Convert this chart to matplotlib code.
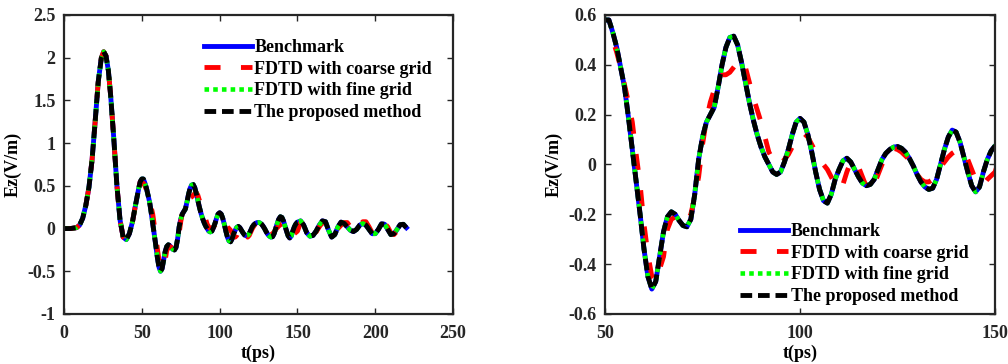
import matplotlib
matplotlib.use("Agg")
from matplotlib import pyplot as plt

# time axis (ps)
t_ps = [0, 4, 8, 10, 12, 14, 16, 18, 20, 22, 24, 25.5, 27, 28.5, 30, 32, 34, 36, 38, 40,
        42, 44, 46, 48, 49, 50, 51, 52, 53, 54, 55, 56, 57, 58, 59, 60, 61, 62, 63, 64,
        65, 66, 67, 68, 69, 70, 71, 72, 73, 74, 75, 76, 77, 78, 79, 80, 81, 82, 83, 84,
        85, 86, 87, 88, 89, 90, 91, 92, 93, 94, 95, 96, 97, 98, 99, 100, 101, 102, 103, 104,
        105, 106, 107, 108, 109, 110, 111, 112, 113, 114, 115, 116, 117, 118, 119, 120, 121, 122, 123, 124,
        125, 126, 127, 128, 129, 130, 131, 132, 133, 134, 135, 136, 137, 138, 139, 140, 141, 142, 143, 144,
        145, 146, 147, 148, 149, 150, 152, 154, 156, 158, 160, 162, 164, 166, 168, 170, 172, 174, 176, 178,
        180, 182, 184, 186, 188, 190, 192, 194, 196, 198, 200, 202, 204, 206, 208, 210, 212, 214, 216, 218,
        220]

ez_benchmark = [0, 0, 0.01, 0.04, 0.12, 0.27, 0.48, 0.8, 1.25, 1.72, 2.0, 2.07, 2.02, 1.85, 1.55, 1.05, 0.5, 0.1, -0.1, -0.13,
                -0.06, 0.08, 0.28, 0.47, 0.55, 0.58, 0.58, 0.53, 0.47, 0.39, 0.31, 0.19, 0.06, -0.07, -0.2, -0.34, -0.45, -0.5, -0.47, -0.37,
                -0.27, -0.21, -0.19, -0.2, -0.225, -0.245, -0.25, -0.22, -0.12, 0.02, 0.11, 0.17, 0.2, 0.23, 0.31, 0.4, 0.47, 0.51, 0.515, 0.48,
                0.41, 0.33, 0.25, 0.18, 0.12, 0.07, 0.03, 0.0, -0.03, -0.04, -0.03, 0.01, 0.06, 0.12, 0.17, 0.185, 0.17, 0.12, 0.05, -0.03,
                -0.1, -0.145, -0.155, -0.12, -0.06, -0.02, 0.015, 0.025, 0.01, -0.02, -0.05, -0.075, -0.085, -0.08, -0.06, -0.02, 0.02, 0.045, 0.06, 0.07,
                0.072, 0.065, 0.05, 0.025, -0.005, -0.04, -0.07, -0.09, -0.1, -0.095, -0.06, 0.0, 0.06, 0.11, 0.138, 0.13, 0.09, 0.03, -0.03, -0.085,
                -0.11, -0.09, -0.03, 0.02, 0.055, 0.075, 0.09, 0.04, -0.05, -0.09, -0.08, -0.03, 0.04, 0.09, 0.08, -0.02, -0.1, -0.07, 0.02, 0.075,
                0.06, 0.02, -0.02, -0.035, -0.01, 0.04, 0.06, 0.04, -0.01, -0.06, -0.06, -0.01, 0.055, 0.05, -0.01, -0.07, -0.06, -0.01, 0.045, 0.05,
                0.01]

ez_coarse = [0, 0, 0.01, 0.04, 0.12, 0.27, 0.48, 0.8, 1.25, 1.72, 2.0, 2.07, 2.02, 1.85, 1.55, 1.05, 0.5, 0.1, -0.1, -0.13,
             -0.06, 0.08, 0.28, 0.47, 0.55, 0.535, 0.53, 0.5, 0.45, 0.39, 0.32, 0.25, 0.17, 0.04, -0.08, -0.24, -0.36, -0.45, -0.47, -0.42,
             -0.37, -0.26, -0.22, -0.21, -0.22, -0.23, -0.23, -0.2, -0.13, -0.05, 0.08, 0.18, 0.25, 0.3, 0.35, 0.36, 0.36, 0.37, 0.39, 0.41,
             0.42, 0.39, 0.33, 0.27, 0.22, 0.17, 0.11, 0.05, 0.02, 0.0, 0.0, 0.02, 0.04, 0.07, 0.1, 0.115, 0.125, 0.11, 0.08, 0.05,
             0.02, 0.0, -0.02, -0.05, -0.08, -0.1, -0.08, -0.03, 0.01, 0.015, -0.01, -0.05, -0.09, -0.1, -0.08, -0.04, 0.0, 0.03, 0.055, 0.065,
             0.06, 0.05, 0.035, 0.02, -0.01, -0.04, -0.06, -0.07, -0.07, -0.06, -0.04, -0.01, 0.01, 0.03, 0.045, 0.055, 0.06, 0.05, 0.02, -0.02,
             -0.06, -0.08, -0.08, -0.06, -0.045, -0.03, 0.07, 0.11, 0.06, -0.02, -0.05, -0.04, 0.02, 0.07, 0.06, -0.02, -0.07, -0.05, 0.0, 0.04,
             0.07, 0.07, 0.02, -0.03, -0.03, 0.03, 0.08, 0.08, 0.02, -0.05, -0.06, -0.02, 0.04, 0.06, 0.02, -0.05, -0.07, -0.03, 0.03, 0.05,
             0.02]

# fine grid FDTD and the proposed method sit on the benchmark at this scale
ez_fine = ez_benchmark
ez_proposed = ez_benchmark

labels = ["Benchmark", "FDTD with coarse grid", "FDTD with fine grid", "The proposed method"]

plt.rcParams["font.family"] = ["Liberation Serif", "DejaVu Serif"]
plt.rcParams["font.weight"] = "bold"
plt.rcParams["font.size"] = 13

frame_color = "#262626"


def draw_curves(ax):
    """Plot the four series with MATLAB-like line styles."""
    ax.plot(t_ps, ez_benchmark, color="#0000ff", linewidth=3.5, label=labels[0])
    ax.plot(t_ps, ez_coarse, color="#ff0000", linewidth=3.5, dashes=(3.3, 4.2),
            dash_capstyle="butt", label=labels[1])
    ax.plot(t_ps, ez_fine, color="#00ff00", linewidth=3.3, dashes=(1.0, 0.9),
            dash_capstyle="butt", label=labels[2])
    ax.plot(t_ps, ez_proposed, color="#000000", linewidth=3.5, dashes=(2.4, 1.2),
            dash_capstyle="butt", label=labels[3])


def style_axes(ax):
    """Boxed axes with inward ticks on all sides."""
    for s in ax.spines.values():
        s.set_linewidth(1.6)
        s.set_color(frame_color)
    ax.tick_params(direction="in", top=True, right=True, length=4, width=1.0,
                   colors=frame_color, labelsize=13)
    ax.tick_params(axis="x", pad=8)
    ax.tick_params(axis="y", pad=6)
    for lab in ax.get_xticklabels() + ax.get_yticklabels():
        lab.set_fontweight("bold")
    ax.set_xlabel("t(ps)", fontweight="bold", fontsize=13, labelpad=2, color="black")
    ax.set_ylabel("Ez(V/m)", fontweight="bold", fontsize=13, color="black")


fig = plt.figure(figsize=(10.08, 3.64), dpi=100)

ax1 = fig.add_axes([0.0635, 0.1374, 0.386, 0.8214])
draw_curves(ax1)
ax1.set_xlim(0, 250)
ax1.set_ylim(-1, 2.5)
ax1.set_xticks([0, 50, 100, 150, 200, 250])
ax1.set_yticks([-1, -0.5, 0, 0.5, 1, 1.5, 2, 2.5])
ax1.set_yticklabels(["-1", "-0.5", "0", "0.5", "1", "1.5", "2", "2.5"])
style_axes(ax1)
ax1.legend(loc="upper right", bbox_to_anchor=(0.946, 0.92), frameon=False,
           handlelength=2.65, handletextpad=0.15, labelspacing=0.26, borderpad=0,
           borderaxespad=0, prop={"weight": "bold", "size": 13})

ax2 = fig.add_axes([0.6002, 0.1374, 0.387, 0.8214])
draw_curves(ax2)
ax2.set_xlim(50, 150)
ax2.set_ylim(-0.6, 0.6)
ax2.set_xticks([50, 100, 150])
ax2.set_yticks([-0.6, -0.4, -0.2, 0, 0.2, 0.4, 0.6])
ax2.set_yticklabels(["-0.6", "-0.4", "-0.2", "0", "0.2", "0.4", "0.6"])
style_axes(ax2)
ax2.legend(loc="lower right", bbox_to_anchor=(0.931, 0.03), frameon=False,
           handlelength=2.65, handletextpad=0.15, labelspacing=0.26, borderpad=0,
           borderaxespad=0, prop={"weight": "bold", "size": 13})

fig.savefig("out.png", dpi=100)
